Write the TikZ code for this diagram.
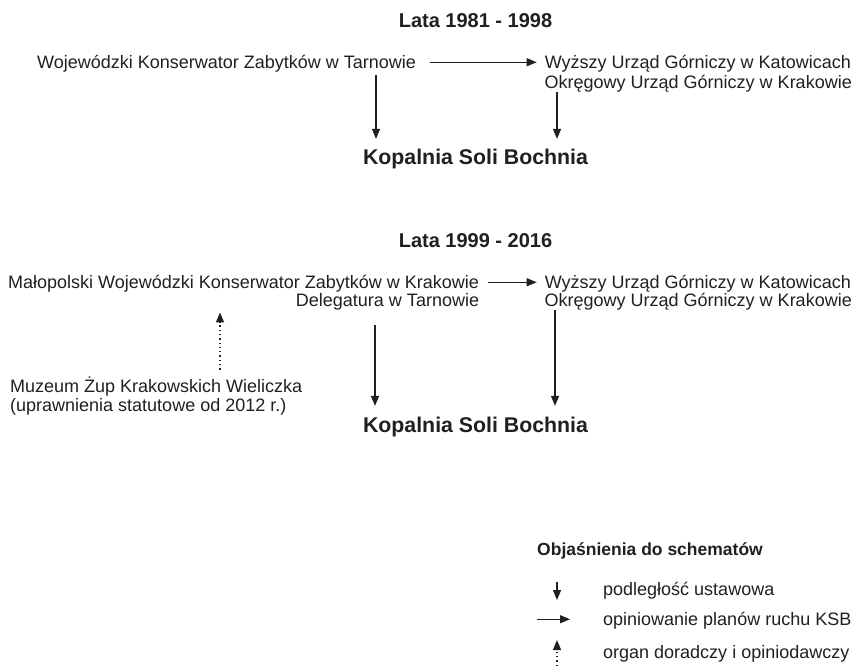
\documentclass[tikz,border=0pt]{standalone}
\usepackage{fontspec}
\setmainfont{Liberation Sans}
\usetikzlibrary{arrows.meta,calc}
\definecolor{ink}{HTML}{231F20}
\begin{document}
\begin{tikzpicture}[x=1pt,y=-1pt,
  txt/.style={inner sep=0pt, font=\fontsize{18}{20}\selectfont, text=ink},
  ttl/.style={inner sep=0pt, font=\fontsize{20}{24}\selectfont\bfseries, text=ink},
  kop/.style={inner sep=0pt, font=\fontsize{21.3}{24}\selectfont\bfseries, text=ink},
  leg/.style={inner sep=0pt, font=\fontsize{17.5}{20}\selectfont\bfseries, text=ink},
  arr/.style={draw=ink, line width=1.3pt, -{Triangle[length=10pt,width=8pt]}},
  darr/.style={draw=ink, line width=1.3pt, dash pattern=on 1.3pt off 3pt, -{Triangle[length=10pt,width=8pt]}}]
\fill[white] (0,0) rectangle (856,670);
\useasboundingbox (0,0) rectangle (856,670);
% ---- diagram 1
\node[ttl, anchor=base] (t1) at (475.5,27) {Lata 1981 - 1998};
\node[txt, anchor=base west] (wkz) at (37,68.5) {Wojewódzki Konserwator Zabytków w Tarnowie};
\node[txt, anchor=base east] (wugA) at (851,68.5) {Wyższy Urząd Górniczy w Katowicach};
\node[txt, anchor=base east] (wugB) at (852,88.5) {Okręgowy Urząd Górniczy w Krakowie};
\node[kop, anchor=base] (kop1) at (475.5,164) {Kopalnia Soli Bochnia};
\coordinate (xa) at (376,0);
\coordinate (xb) at (557,0);
\draw[arr] ($(wkz.east)+(14,-1.5)$) -- ($(wkz.east -| wugA.west)+(-8,-1.5)$);
\draw[arr] ($(wkz.south -| xa)+(0,2.5)$) -- ($(kop1.north -| xa)+(0,-9.5)$);
\draw[arr] ($(wugB.south -| xb)+(0,0)$) -- ($(kop1.north -| xb)+(0,-9.5)$);
% ---- diagram 2
\node[ttl, anchor=base] (t2) at (475.5,247) {Lata 1999 - 2016};
\node[txt, anchor=base west] (mwkz) at (8,288.5) {Małopolski Wojewódzki Konserwator Zabytków w Krakowie};
\node[txt, anchor=base east] (del) at (mwkz.base east |- 0,306.5) {Delegatura w Tarnowie};
\node[txt, anchor=base east] (wug2A) at (851,288.5) {Wyższy Urząd Górniczy w Katowicach};
\node[txt, anchor=base east] (wug2B) at (852,306.5) {Okręgowy Urząd Górniczy w Krakowie};
\node[txt, anchor=base west] (muzA) at (10,392.5) {Muzeum Żup Krakowskich Wieliczka};
\node[txt, anchor=base west] (muzB) at (10,411) {(uprawnienia statutowe od 2012 r.)};
\node[kop, anchor=base] (kop2) at (475.5,432) {Kopalnia Soli Bochnia};
\coordinate (xc) at (375,0);
\coordinate (xd) at (555,0);
\coordinate (xe) at (220,0);
\draw[arr] ($(mwkz.east)+(9,-1.5)$) -- ($(mwkz.east -| wug2A.west)+(-8,-1.5)$);
\draw[arr] ($(del.south -| xc)+(0,15)$) -- ($(kop2.north -| xc)+(0,-10.5)$);
\draw[arr] ($(wug2B.south -| xd)+(0,0)$) -- ($(kop2.north -| xd)+(0,-10.5)$);
\draw[darr] ($(muzA.north -| xe)+(0,-7)$) -- ($(del.south -| xe)+(0,2)$);
% ---- legend
\node[leg, anchor=base west] (lt) at (537,555) {Objaśnienia do schematów};
\node[txt, anchor=base west] (l1) at (603,595) {podległość ustawowa};
\node[txt, anchor=base west] (l2) at (603,625) {opiniowanie planów ruchu KSB};
\node[txt, anchor=base west] (l3) at (603,658) {organ doradczy i opiniodawczy};
\coordinate (xl) at (557,0);
\coordinate (xl0) at (537,0);
\coordinate (xl1) at (570,0);
\draw[arr] ($(l1.base -| xl)+(0,-13)$) -- ($(l1.base -| xl)+(0,5)$);
\draw[arr] ($(l2.west -| xl0)+(0,-1)$) -- ($(l2.west -| xl1)+(0,-1)$);
\draw[darr] ($(l3.base -| xl)+(0,8)$) -- ($(l3.base -| xl)+(0,-18)$);
\end{tikzpicture}
\end{document}
